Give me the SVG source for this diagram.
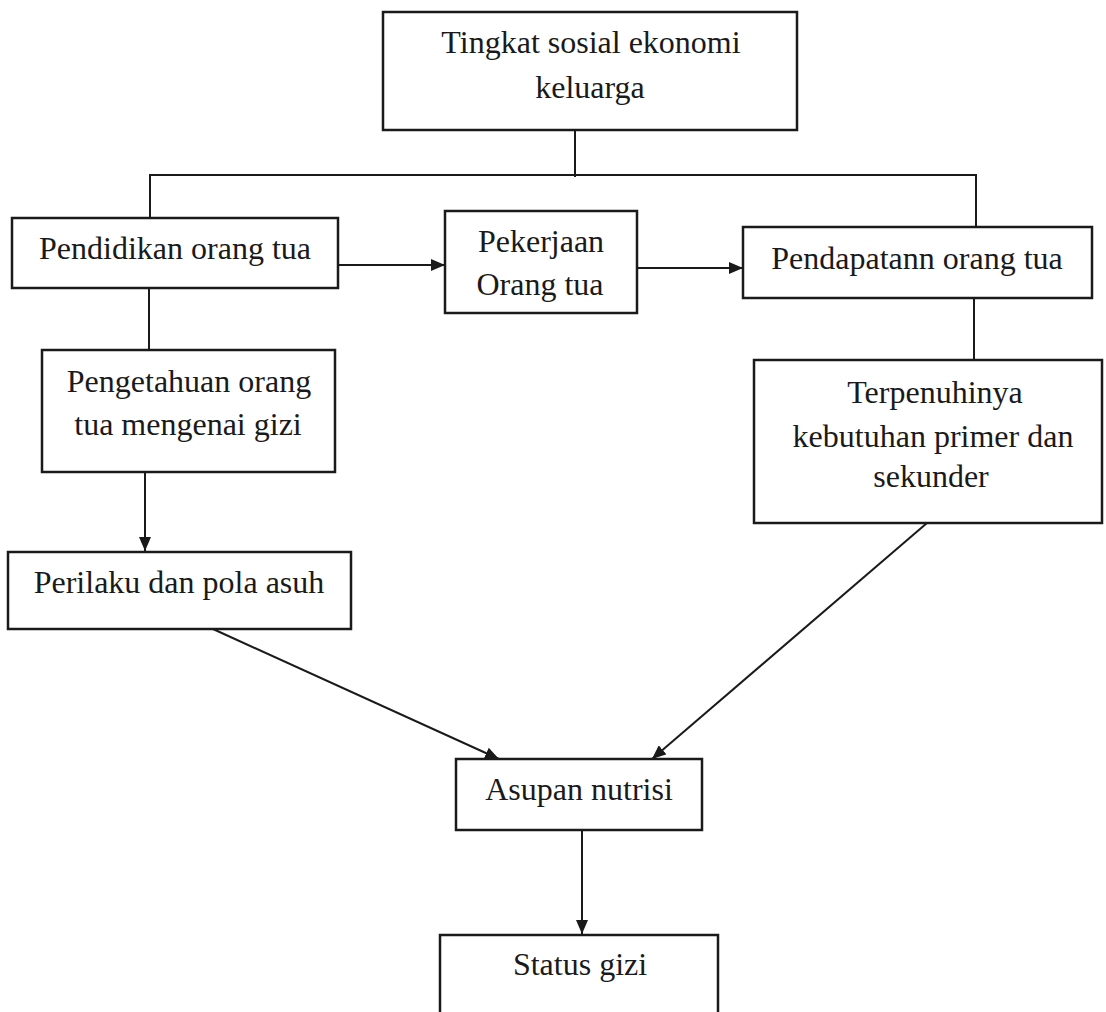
<svg xmlns="http://www.w3.org/2000/svg" width="1106" height="1012" viewBox="0 0 1106 1012">
<style>
.box{fill:#fff;stroke:#1a1a1a;stroke-width:2.5}
.ln{fill:none;stroke:#1a1a1a;stroke-width:2}
text{font-family:"Liberation Serif","Times New Roman",serif;font-size:32px;fill:#1a1a1a;text-anchor:middle}
</style>
<defs>
<marker id="ah" viewBox="0 0 14 12" refX="14" refY="6" markerWidth="14" markerHeight="12" markerUnits="userSpaceOnUse" orient="auto">
<path d="M0,0 L14,6 L0,12 Z" fill="#1a1a1a"/>
</marker>
</defs>
<rect width="1106" height="1012" fill="#fff"/>
<g id="connectors">
<path class="ln" d="M575,130 V177"/>
<path class="ln" d="M150,218 V175 H976 V227"/>
<path class="ln" d="M338,265 H445" marker-end="url(#ah)"/>
<path class="ln" d="M637,268 H743" marker-end="url(#ah)"/>
<path class="ln" d="M149,288 V350"/>
<path class="ln" d="M974,298 V360"/>
<path class="ln" d="M145,472 V551" marker-end="url(#ah)"/>
<path class="ln" d="M213,629 L499,759" marker-end="url(#ah)"/>
<path class="ln" d="M927,523 L652,759" marker-end="url(#ah)"/>
<path class="ln" d="M582,830 V934" marker-end="url(#ah)"/>
</g>
<g id="n-tingkat">
<rect class="box" x="383" y="12" width="414" height="118"/>
<text x="591" y="53">Tingkat sosial ekonomi</text>
<text x="590" y="98">keluarga</text>
</g>
<g id="n-pendidikan">
<rect class="box" x="12" y="218" width="326" height="70"/>
<text x="175" y="259">Pendidikan orang tua</text>
</g>
<g id="n-pekerjaan">
<rect class="box" x="445" y="211" width="192" height="102"/>
<text x="541" y="252">Pekerjaan</text>
<text x="540" y="295">Orang tua</text>
</g>
<g id="n-pendapatan">
<rect class="box" x="743" y="227" width="349" height="71"/>
<text x="917" y="269">Pendapatann orang tua</text>
</g>
<g id="n-pengetahuan">
<rect class="box" x="42" y="350" width="293" height="122"/>
<text x="189" y="392">Pengetahuan orang</text>
<text x="188" y="435">tua mengenai gizi</text>
</g>
<g id="n-terpenuhinya">
<rect class="box" x="754" y="360" width="348" height="163"/>
<text x="935" y="403">Terpenuhinya</text>
<text x="933" y="447">kebutuhan primer dan</text>
<text x="931" y="487">sekunder</text>
</g>
<g id="n-perilaku">
<rect class="box" x="8" y="552" width="343" height="77"/>
<text x="179" y="593">Perilaku dan pola asuh</text>
</g>
<g id="n-asupan">
<rect class="box" x="456" y="759" width="246" height="71"/>
<text x="579" y="800">Asupan nutrisi</text>
</g>
<g id="n-status">
<rect class="box" x="440" y="935" width="278" height="100"/>
<text x="580" y="975">Status gizi</text>
</g>
</svg>
